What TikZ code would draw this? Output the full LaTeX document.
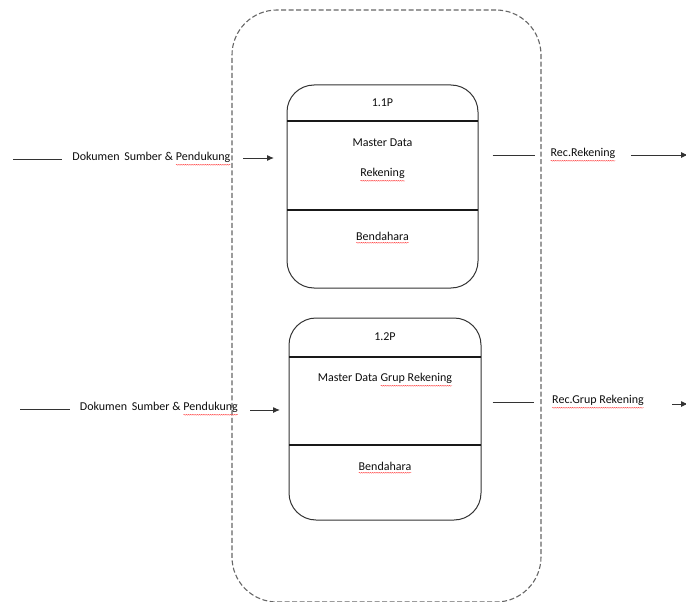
\documentclass[tikz,border=0pt]{standalone}
\usepackage{fontspec}
\setmainfont{Carlito}
\usetikzlibrary{arrows.meta,decorations.pathmorphing}

% word with a red wavy underline
\newcommand\spellword[1]{\tikz[baseline=(sw.base)]{%
  \node[inner sep=0pt,outer sep=0pt] (sw) {#1};
  \draw[red!75,line width=0.4pt,decorate,decoration={snake,amplitude=0.45pt,segment length=2.2pt}]
    ([yshift=-1.8pt]sw.south west) -- ([yshift=-1.8pt]sw.south east);}}

\tikzset{
  container/.style={draw=black!60,line width=1.1pt,dash pattern=on 5pt off 2.5pt,rounded corners=45pt},
  procbox/.style={draw=black!80,line width=1pt,rounded corners=27pt,inner sep=0pt},
  divider/.style={draw=black!90,line width=1.1pt},
  txt/.style={font=\fontsize{12}{14}\selectfont,text=black!95,inner sep=0pt},
  flowlabel/.style={txt},
  flow/.style={draw=black!80,line width=1pt},
  flowarrow/.style={flow,-{Latex[length=7pt,width=6pt]}},
}

\begin{document}
\begin{tikzpicture}[x=1pt,y=-1pt]
  \useasboundingbox (0,0) rectangle (686,602);

  % dashed process group
  \node[container,minimum width=309pt,minimum height=592pt] (grp) at (386.5,306) {};

  % process 1.1P
  \node[procbox,minimum width=191pt,minimum height=203pt] (p1) at (382.5,186.5) {};
  \coordinate (p1a) at (287,121); \coordinate (p1b) at (478,121);
  \coordinate (p1c) at (287,210); \coordinate (p1d) at (478,210);
  \draw[divider] (p1a) -- (p1b);
  \draw[divider] (p1c) -- (p1d);
  \node[txt] (p1id) at (382.5,103) {1.1P};
  \node[txt] (p1n1) at (382.5,143) {Master Data};
  \node[txt] (p1n2) at (382.5,175) {\spellword{Rekening}};
  \node[txt] (p1loc) at (382.5,238) {\spellword{Bendahara}};

  % process 1.2P
  \node[procbox,minimum width=192pt,minimum height=202pt] (p2) at (385,419) {};
  \coordinate (p2a) at (289,357); \coordinate (p2b) at (481,357);
  \coordinate (p2c) at (289,445); \coordinate (p2d) at (481,445);
  \draw[divider] (p2a) -- (p2b);
  \draw[divider] (p2c) -- (p2d);
  \node[txt] (p2id) at (385,337) {1.2P};
  \node[txt] (p2n) at (385,380) {Master Data \spellword{Grup Rekening}};
  \node[txt] (p2loc) at (385,468) {\spellword{Bendahara}};

  % input flow to 1.1P
  \coordinate (s1) at (13,159);
  \node[flowlabel,inner xsep=10pt] (l1) at (151.5,159) {Dokumen\, Sumber \& \spellword{Pendukung}};
  \coordinate (b1) at (243,158);
  \coordinate (a1) at (274,158);
  \draw[flow] (s1) -- (l1.west);
  \draw[flowarrow] (b1) -- (a1);

  % output flow from 1.1P
  \node[flowlabel,inner xsep=15pt] (r1) at (583,155) {\spellword{Rec.Rekening}};
  \coordinate (e1) at (688,155);
  \draw[flow] ([xshift=14pt]p1.east |- r1) -- (r1.west);
  \draw[flowarrow] (r1.east) -- (e1);

  % input flow to 1.2P
  \coordinate (s2) at (20,409);
  \node[flowlabel,inner xsep=10pt] (l2) at (159,409) {Dokumen\, Sumber \& \spellword{Pendukung}};
  \coordinate (b2) at (250,410);
  \coordinate (a2) at (280,410);
  \draw[flow] (s2) -- (l2.west);
  \draw[flowarrow] (b2) -- (a2);

  % output flow from 1.2P
  \node[flowlabel,inner xsep=18pt] (r2) at (598,402) {\spellword{Rec.Grup Rekening}};
  \coordinate (e2) at (688,404);
  \coordinate (q2) at (672,404);
  \draw[flow] ([xshift=11pt]p2.east |- r2) -- (r2.west);
  \draw[flowarrow] (q2) -- (e2);
\end{tikzpicture}
\end{document}
